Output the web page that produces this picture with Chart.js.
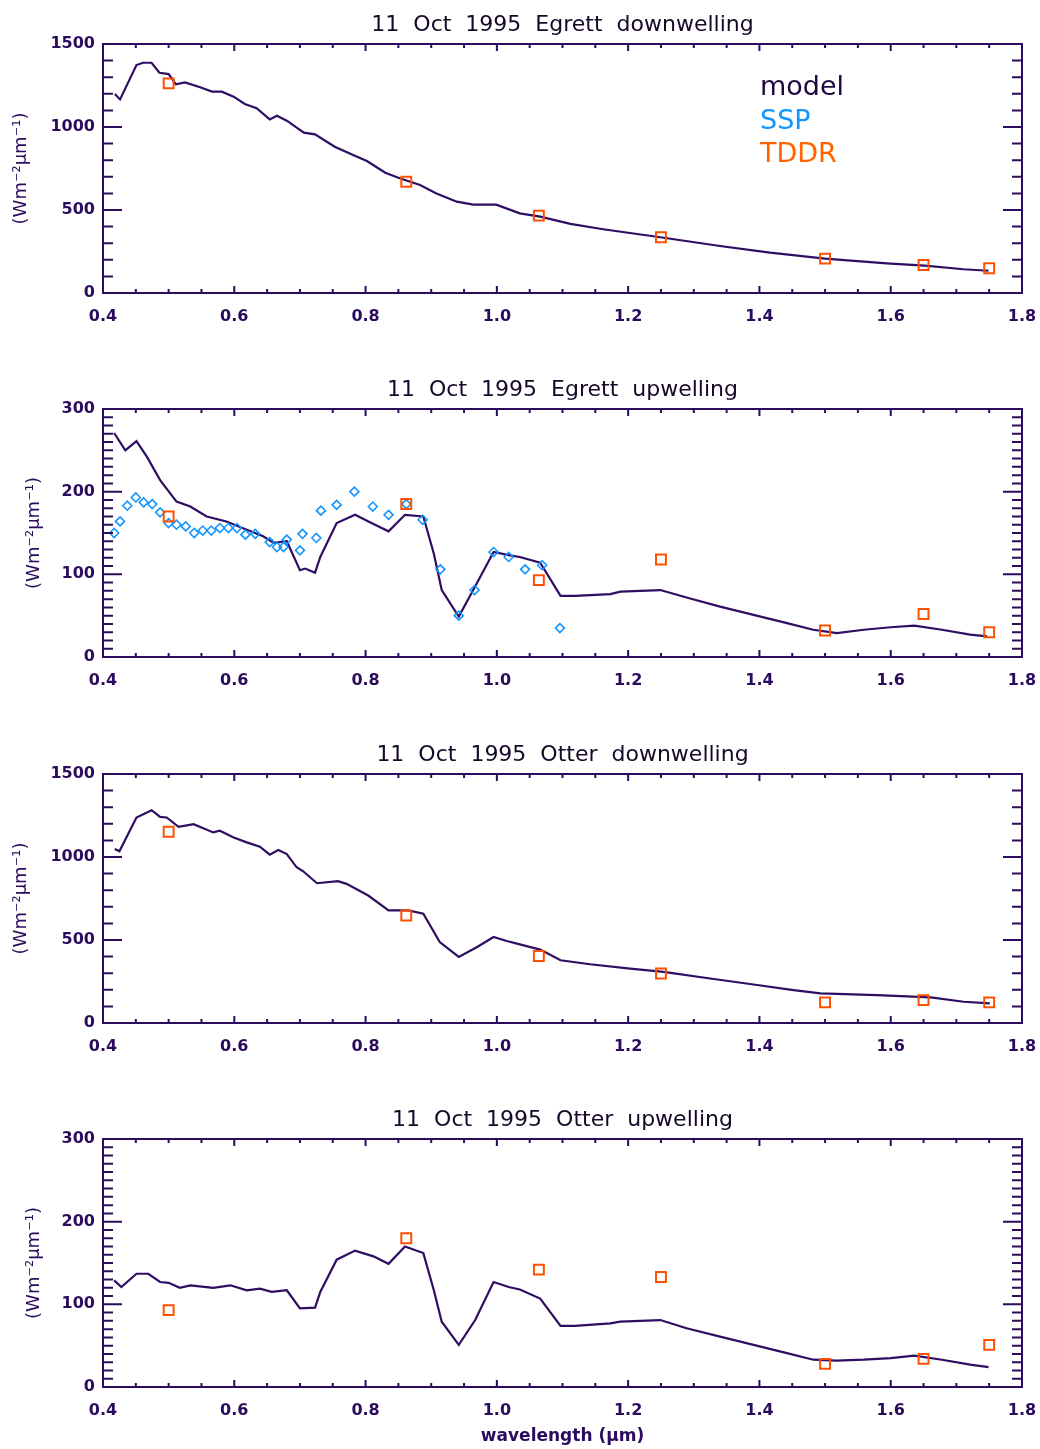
<!DOCTYPE html>
<html>
<head>
<meta charset="utf-8">
<script src="https://cdn.jsdelivr.net/npm/chart.js@4.4.1/dist/chart.umd.min.js"></script>
<style>
  body { margin: 0; background: #fff; }
  canvas { position: absolute; left: 0; }
</style>
</head>
<body>
<canvas id="p1" width="1040" height="365" style="top:0px"></canvas>
<canvas id="p2" width="1040" height="365" style="top:365px"></canvas>
<canvas id="p3" width="1040" height="365" style="top:730px"></canvas>
<canvas id="p4" width="1040" height="354" style="top:1095px"></canvas>
<script>
// axis ticks
const xTicks = [0.4, 0.6, 0.8, 1.0, 1.2, 1.4, 1.6, 1.8];
const xTickLabels = ['0.4', '0.6', '0.8', '1.0', '1.2', '1.4', '1.6', '1.8'];
const downTicks = [0, 500, 1000, 1500];
const upTicks = [0, 100, 200, 300];

// TDDR channels (um)
const tddrWl = [0.5, 0.862, 1.064, 1.25, 1.5, 1.65, 1.75];

// Egrett downwelling
const egDownWl = [0.418,0.426,0.451,0.461,0.474,0.486,0.500,0.511,0.525,0.548,0.566,0.581,0.599,0.616,0.634,0.654,0.665,0.680,0.706,0.723,0.753,0.781,0.802,0.830,0.852,0.883,0.908,0.939,0.964,0.999,1.035,1.066,1.112,1.162,1.249,1.340,1.416,1.500,1.594,1.652,1.711,1.749];
const egDownModel = [1199,1166,1373,1387,1387,1327,1319,1257,1269,1239,1213,1213,1183,1139,1113,1046,1068,1038,966,956,881,831,795,725,691,651,600,550,532,532,480,460,416,384,336,283,243,207,179,165,143,134];
const egDownTddr = [1263, 670, 466, 336, 207, 169, 149];

// Egrett upwelling
const egUpWl = [0.417,0.434,0.451,0.467,0.487,0.512,0.533,0.558,0.588,0.619,0.644,0.660,0.680,0.700,0.708,0.723,0.731,0.756,0.784,0.812,0.835,0.860,0.888,0.904,0.916,0.942,0.964,0.995,1.020,1.035,1.066,1.097,1.119,1.173,1.188,1.249,1.289,1.340,1.391,1.442,1.482,1.518,1.559,1.600,1.636,1.678,1.721,1.747];
const egUpModel = [271,250,261,242,214,188,182,170,164,154,146,138,140,105,107,102,121,162,172,161,152,172,170,125,81,49,81,127,123,121,114,74,74,76,79,81,72,61,51,41,33,29,33,36,38,33,27,25];
const egUpTddr = [170, 185, 93, 118, 32, 52, 30];
const sspWl = [0.417,0.426,0.437,0.450,0.462,0.475,0.487,0.500,0.512,0.526,0.539,0.552,0.565,0.578,0.591,0.604,0.617,0.632,0.654,0.665,0.675,0.680,0.700,0.704,0.725,0.732,0.756,0.783,0.811,0.835,0.862,0.887,0.914,0.942,0.966,0.995,1.018,1.043,1.069,1.096];
const sspUp = [150,164,183,193,187,185,175,162,160,158,150,153,153,156,156,156,148,149,139,133,133,142,129,149,144,177,184,200,182,172,185,166,106,50,81,127,121,106,111,35];

// Otter downwelling
const otDownWl = [0.418,0.425,0.451,0.474,0.487,0.497,0.515,0.538,0.568,0.578,0.599,0.619,0.639,0.654,0.667,0.680,0.695,0.705,0.726,0.758,0.771,0.804,0.835,0.865,0.888,0.913,0.942,0.970,0.995,1.015,1.035,1.066,1.097,1.142,1.203,1.254,1.325,1.391,1.452,1.493,1.579,1.661,1.711,1.751];
const otDownModel = [1048,1034,1238,1282,1242,1238,1182,1198,1148,1158,1118,1088,1062,1014,1042,1018,938,914,842,854,838,768,678,678,658,488,398,458,518,494,474,442,378,354,328,308,268,232,198,178,168,154,128,118];
const otDownTddr = [1152, 648, 404, 298, 124, 138, 124];

// Otter upwelling
const otUpWl = [0.417,0.428,0.451,0.469,0.487,0.500,0.517,0.533,0.568,0.594,0.619,0.639,0.657,0.680,0.700,0.723,0.731,0.756,0.784,0.812,0.835,0.860,0.888,0.904,0.916,0.942,0.967,0.995,1.018,1.035,1.066,1.097,1.119,1.173,1.188,1.249,1.289,1.340,1.391,1.442,1.482,1.518,1.559,1.600,1.636,1.678,1.721,1.749];
const otUpModel = [129,121,137,137,127,126,120,123,120,123,117,119,115,117,95,96,115,154,165,158,149,170,162,117,79,51,81,127,121,118,107,74,74,77,79,81,71,61,51,41,33,32,33,35,38,33,27,24];
const otUpTddr = [93, 180, 142, 133, 28, 34, 51];

const legendNames = ['model', 'SSP', 'TDDR'];
const legendColors = ['#1e0840', '#1496ff', '#ff6400'];

const ink = '#2b0b5c';
const lineCol = '#2e0d62';
const sspCol = '#1496ff';
const tddrCol = '#ff5000';
const fontFam = '"DejaVu Sans", sans-serif';
const yTitle = '(Wm\u207B\u00B2\u03BCm\u207B\u00B9)';

function pts(xs, ys) {
  return xs.map((x, i) => ({x: x, y: ys[i]}));
}

// IDL style box with inward ticks on all four sides
const idlAxes = {
  id: 'idlAxes',
  afterDatasetsDraw(chart, args, opts) {
    const ctx = chart.ctx;
    const a = chart.chartArea;
    const xs = chart.scales.x, ys = chart.scales.y;
    ctx.save();
    ctx.strokeStyle = ink;
    ctx.lineWidth = 2;
    ctx.strokeRect(a.left, a.top, a.right - a.left, a.bottom - a.top);
    ctx.beginPath();
    for (let i = 0; i <= 28; i++) {
      const px = xs.getPixelForValue(0.4 + i * 0.05);
      const len = i % 4 === 0 ? 7 : 4;
      ctx.moveTo(px, a.bottom); ctx.lineTo(px, a.bottom - len);
      ctx.moveTo(px, a.top); ctx.lineTo(px, a.top + len);
    }
    const n = Math.round(opts.max / opts.minor);
    const per = Math.round(opts.major / opts.minor);
    for (let i = 0; i <= n; i++) {
      const py = ys.getPixelForValue(i * opts.minor);
      const len = i % per === 0 ? 19 : 10;
      ctx.moveTo(a.left, py); ctx.lineTo(a.left + len, py);
      ctx.moveTo(a.right, py); ctx.lineTo(a.right - len, py);
    }
    ctx.stroke();
    ctx.restore();
  }
};

const legendText = {
  id: 'legendText',
  afterDraw(chart) {
    const ctx = chart.ctx;
    ctx.save();
    ctx.font = '27px ' + fontFam;
    legendNames.forEach((name, i) => {
      ctx.fillStyle = legendColors[i];
      ctx.fillText(name, 760, 95 + i * 33.5);
    });
    ctx.restore();
  }
};

function makePanel(id, title, yMax, yTicks, yMajor, yMinor, datasets, xHeight, yTitlePad, last, extra) {
  return new Chart(document.getElementById(id), {
    type: 'scatter',
    data: {datasets: datasets},
    options: {
      responsive: false,
      animation: false,
      layout: {padding: {left: 0, right: 18, top: 0, bottom: 0}},
      plugins: {
        legend: {display: false},
        tooltip: {enabled: false},
        title: {
          display: true, text: title, fullSize: false, color: '#160828',
          font: {family: fontFam, size: 22, weight: 'normal'},
          padding: {top: 12, bottom: 5.6}
        },
        idlAxes: {max: yMax, major: yMajor, minor: yMinor}
      },
      scales: {
        x: {
          type: 'linear', min: 0.4, max: 1.8,
          grid: {display: false, drawTicks: true, tickLength: 14},
          border: {display: false},
          afterBuildTicks: s => { s.ticks = xTicks.map(v => ({value: v})); },
          ticks: {
            callback: (v, i) => xTickLabels[i],
            color: ink, padding: 0, maxRotation: 0, autoSkip: false,
            font: {family: fontFam, size: 16, weight: 'bold'}
          },
          title: {
            display: last, text: 'wavelength (\u03BCm)', color: ink,
            font: {family: fontFam, size: 17, weight: 'bold'},
            padding: {top: 0, bottom: 2}
          },
          afterFit: s => { s.height = xHeight; }
        },
        y: {
          type: 'linear', min: 0, max: yMax,
          grid: {display: false, drawTicks: false},
          border: {display: false},
          afterBuildTicks: s => { s.ticks = yTicks.map(v => ({value: v})); },
          ticks: {
            callback: (v, i) => String(yTicks[i]),
            color: ink, padding: 8, autoSkip: false,
            font: {family: fontFam, size: 16, weight: 'bold'}
          },
          title: {
            display: true, text: yTitle, color: ink,
            font: {family: fontFam, size: 18, weight: 'normal'},
            padding: {top: yTitlePad, bottom: 0}
          },
          afterFit: s => { s.width = 103; }
        }
      }
    },
    plugins: extra ? [idlAxes, extra] : [idlAxes]
  });
}

function modelSet(xs, ys) {
  return {data: pts(xs, ys), showLine: true, borderColor: lineCol, borderWidth: 2.2,
          pointRadius: 0, tension: 0, order: 3};
}
function tddrSet(ys) {
  return {data: pts(tddrWl, ys), showLine: false, pointStyle: 'rect', pointRadius: 7,
          borderColor: tddrCol, backgroundColor: 'rgba(0,0,0,0)', borderWidth: 2, order: 1};
}
function sspSet(xs, ys) {
  return {data: pts(xs, ys), showLine: false, pointStyle: 'rectRot', pointRadius: 4.5,
          borderColor: sspCol, backgroundColor: 'rgba(0,0,0,0)', borderWidth: 1.6, order: 2};
}

makePanel('p1', '11  Oct  1995  Egrett  downwelling', 1500, downTicks, 500, 100,
  [modelSet(egDownWl, egDownModel), tddrSet(egDownTddr)], 72, 11, false, legendText);
makePanel('p2', '11  Oct  1995  Egrett  upwelling', 300, upTicks, 100, 10,
  [modelSet(egUpWl, egUpModel), sspSet(sspWl, sspUp), tddrSet(egUpTddr)], 73, 24, false);
makePanel('p3', '11  Oct  1995  Otter  downwelling', 1500, downTicks, 500, 100,
  [modelSet(otDownWl, otDownModel), tddrSet(otDownTddr)], 72, 11, false);
makePanel('p4', '11  Oct  1995  Otter  upwelling', 300, upTicks, 100, 10,
  [modelSet(otUpWl, otUpModel), tddrSet(otUpTddr)], 62, 24, true);
</script>
</body>
</html>
